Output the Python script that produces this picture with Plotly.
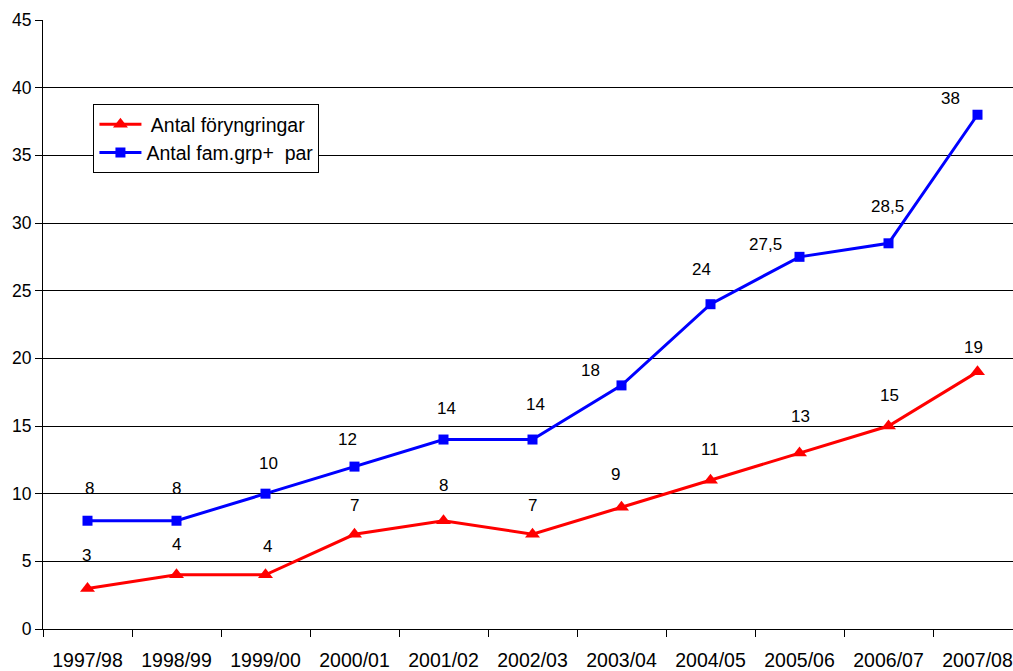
import plotly.graph_objects as go

# ---- data ----
seasons = ["1997/98", "1998/99", "1999/00", "2000/01", "2001/02", "2002/03",
           "2003/04", "2004/05", "2005/06", "2006/07", "2007/08"]
foryngringar = [3, 4, 4, 7, 8, 7, 9, 11, 13, 15, 19]
famgrp_par = [8, 8, 10, 12, 14, 14, 18, 24, 27.5, 28.5, 38]
name_red = " Antal föryngringar"
name_blue = "Antal fam.grp+  par"

# label offsets in pixels (dx, dy upward) as placed in the original chart
red_dx = [-1, 0, 2, 0, 0, 0, -6, -1, 1, 1, -4]
red_dy = [33, 30, 28, 29, 35, 29, 33, 31, 37, 31, 24]
blue_dx = [2, 0, 3, -7, 3, 3, -31, -9, -34, -1, -27]
blue_dy = [32, 32, 30, 27, 31, 35, 15, 35, 12, 37, 16]

FONT = "Liberation Sans, Arial, sans-serif"

def fmt(v):
    return f"{v:g}".replace(".", ",")

fig = go.Figure()
fig.add_trace(go.Scatter(
    x=seasons, y=foryngringar, name=name_red, mode="lines+markers",
    line=dict(color="#FF0000", width=3),
    marker=dict(symbol="triangle-up", size=13, color="#FF0000"),
    legendgroup="a",
))
fig.add_trace(go.Scatter(
    x=seasons, y=famgrp_par, name=name_blue, mode="lines+markers",
    line=dict(color="#0000FF", width=3),
    marker=dict(symbol="square", size=10, color="#0000FF"),
    legendgroup="b",
))

annotations = []
for xs, ys, dxs, dys in [(seasons, foryngringar, red_dx, red_dy),
                         (seasons, famgrp_par, blue_dx, blue_dy)]:
    for xv, yv, dx, dy in zip(xs, ys, dxs, dys):
        annotations.append(dict(
            x=xv, y=yv, text=fmt(yv), showarrow=False,
            xshift=dx, yshift=dy,
            font=dict(family=FONT, size=17, color="black"),
        ))

plot_w = 1013 - 43
cat_px = 89.0
fig.update_layout(
    width=1013, height=671,
    margin=dict(l=43, r=0, t=20, b=42, autoexpand=False),
    paper_bgcolor="white", plot_bgcolor="white",
    font=dict(family=FONT, color="black"),
    showlegend=True,
    legend=dict(
        x=0.052, y=0.862, xanchor="left", yanchor="top",
        bgcolor="white", bordercolor="black", borderwidth=1,
        font=dict(family=FONT, size=19.5, color="black"),
        traceorder="grouped", tracegroupgap=0,
        itemwidth=42,
    ),
    annotations=annotations,
    xaxis=dict(
        type="category",
        range=[-0.5, -0.5 + plot_w / cat_px],
        automargin=False,
        showgrid=False, zeroline=False,
        showline=True, linecolor="black", linewidth=1,
        ticks="outside", tickson="boundaries", ticklen=7,
        tickcolor="black", tickwidth=1,
        tickfont=dict(family=FONT, size=19.5, color="black"),
        ticklabelstandoff=14,
    ),
    yaxis=dict(
        range=[0, 45], dtick=5, tick0=0,
        automargin=False,
        showgrid=True, gridcolor="black", gridwidth=1,
        zeroline=False,
        showline=True, linecolor="black", linewidth=1,
        ticks="outside", ticklen=7, tickcolor="black", tickwidth=1,
        tickfont=dict(family=FONT, size=17.5, color="black"),
    ),
)

fig.write_html(
    "out.html",
    config={"displayModeBar": False},
    post_script="document.body.style.margin='0';document.body.style.overflow='hidden';",
)
